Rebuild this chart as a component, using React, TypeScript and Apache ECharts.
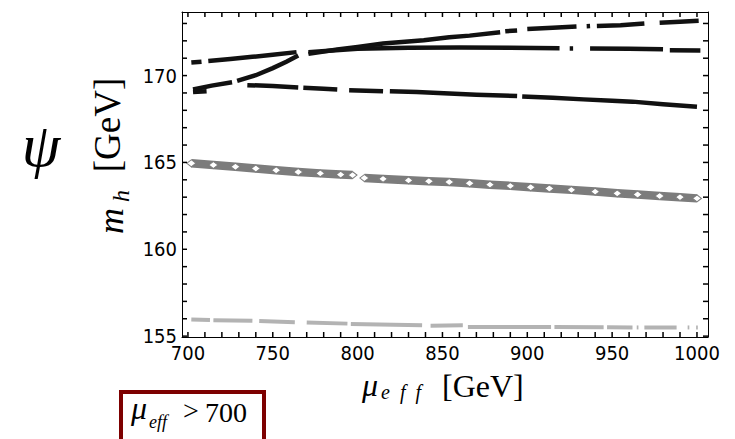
import React, { useEffect, useRef } from "react";
import * as echarts from "echarts";

// ---- axis ticks / labels ----
const xLabels = [700, 750, 800, 850, 900, 950, 1000];
const yLabels = [155, 160, 165, 170];
const xTicks = [700, 710, 720, 730, 740, 750, 760, 770, 780, 790, 800, 810, 820, 830, 840, 850, 860, 870, 880, 890, 900, 910, 920, 930, 940, 950, 960, 970, 980, 990, 1000];
const yTicks = [155, 156, 157, 158, 159, 160, 161, 162, 163, 164, 165, 166, 167, 168, 169, 170, 171, 172, 173];
const xRange = [696.5, 1006.5];
const yRange = [154.95, 173.66];

// ---- data (segments of [mu_eff, m_h]) ----
const lineA: number[][][] = [
  [[702, 170.75], [708, 170.8]],
  [[712, 170.84], [725, 170.95], [738, 171.08], [750, 171.2], [764, 171.35]],
  [[771, 171.35], [785, 171.45], [800, 171.55], [830, 171.6], [860, 171.62], [890, 171.6], [919, 171.58]],
  [[925, 171.56], [927, 171.56]],
  [[937, 171.56], [960, 171.55], [980, 171.52]],
  [[984, 171.46], [1002, 171.45]],
];
const lineB: number[][][] = [
  [[703, 169.2], [714, 169.42], [726, 169.62]],
  [[729, 169.7], [740, 170.02], [750, 170.43], [758, 170.8], [765, 171.15]],
  [[771, 171.25], [788, 171.5], [800, 171.65], [815, 171.85], [839, 172.04], [854, 172.2], [866, 172.3], [884, 172.5]],
  [[887, 172.55], [894, 172.6]],
  [[900, 172.68], [915, 172.76], [929, 172.83]],
  [[935, 172.84], [937, 172.85]],
  [[941, 172.86], [955, 172.9], [969, 173.0]],
  [[978, 173.04], [990, 173.1], [1001, 173.15]],
];
const lineC: number[][][] = [
  [[703, 169.05], [711, 169.1]],
  [[735, 169.45], [750, 169.4], [765, 169.32]],
  [[768, 169.3], [780, 169.24], [788, 169.2]],
  [[795, 169.16], [815, 169.1]],
  [[819, 169.1], [835, 169.06], [854, 168.97], [870, 168.9], [894, 168.82]],
  [[897, 168.8], [915, 168.72], [933, 168.63], [950, 168.55], [962, 168.5], [980, 168.35], [1000, 168.2]],
];
const lineD: number[][][] = [
  [[702, 164.95], [715, 164.85], [728, 164.75], [740, 164.65], [752, 164.55], [765, 164.45], [778, 164.37], [790, 164.3], [797, 164.27]],
  [[804, 164.1], [815, 164.05], [830, 163.97], [842, 163.92], [854, 163.87], [866, 163.8], [878, 163.72], [890, 163.65], [902, 163.57], [913, 163.5], [926, 163.42], [940, 163.32], [953, 163.22], [965, 163.15], [978, 163.07], [990, 163.0], [1000, 162.93]],
];
const lineE: number[][][] = [
  [[702, 155.96], [713, 155.93]],
  [[715, 155.92], [738, 155.88]],
  [[742, 155.87], [763, 155.8]],
  [[770, 155.78], [794, 155.72]],
  [[796, 155.7], [838, 155.62]],
  [[843, 155.6], [862, 155.62]],
  [[865, 155.52], [914, 155.52]],
  [[916, 155.52], [945, 155.51]],
  [[947, 155.51], [962, 155.5]],
  [[964.5, 155.5], [965.5, 155.5]],
  [[969, 155.5], [988, 155.5]],
  [[994.5, 155.5], [995.5, 155.5]],
  [[999.5, 155.5], [1000.5, 155.5]],
];

const SERIF = '"Liberation Serif", "Times New Roman", serif';
const TICKFONT = '"DejaVu Sans Condensed", "Liberation Sans", sans-serif';
const TICK_PX = 5;
const W = 735, H = 439;
const G = { left: 182, right: 27, top: 12, bottom: 102 };

function linesSeries(segs: number[][][], color: string, width: number, z = 2) {
  return {
    type: "lines",
    coordinateSystem: "cartesian2d",
    xAxisIndex: 0,
    yAxisIndex: 0,
    polyline: true,
    silent: true,
    clip: false,
    z,
    lineStyle: { color, width, opacity: 1, cap: "butt", curveness: 0 },
    data: segs.map((s) => ({ coords: s })),
  };
}

function txt(text: string, x: number, y: number, size: number, opts: any = {}) {
  return {
    type: "text",
    x,
    y,
    rotation: opts.rotation || 0,
    z: 100,
    style: {
      text,
      fill: "#000",
      fontSize: size,
      fontFamily: opts.family || SERIF,
      fontStyle: opts.italic ? "italic" : "normal",
      align: opts.align || "left",
      textAlign: opts.align || "left",
      verticalAlign: "middle",
      textVerticalAlign: "middle",
    },
  };
}

export default function App() {
  const ref = useRef<HTMLDivElement>(null);
  useEffect(() => {
    if (!ref.current) return;
    const chart = echarts.init(ref.current, null, { renderer: "svg" });
    const fmt = (v: number) => String(Math.round(v));

    const frameAxis = (pos: string, range: number[], labels: number[] | null) => ({
      type: "value",
      position: pos,
      min: range[0],
      max: range[1],
      axisLine: { show: true, onZero: false, lineStyle: { color: "#000", width: 1 } },
      axisTick: { show: false },
      splitLine: { show: false },
      axisLabel: labels
        ? { show: true, customValues: labels, formatter: fmt, fontSize: 20, fontFamily: TICKFONT, color: "#000", margin: pos === "bottom" ? 6 : 5 }
        : { show: false },
    });

    const baseGraphic: any[] = [
      txt("\u03C8", 41, 145, 62, { italic: true, align: "center" }),
      txt("[GeV]", 107, 125, 37, { rotation: Math.PI / 2, align: "center" }),
      txt("h", 121, 196, 24, { rotation: Math.PI / 2, italic: true, align: "center" }),
      txt("m", 111, 221, 36, { rotation: Math.PI / 2, italic: true, align: "center" }),
      txt("\u03BC", 362, 384.5, 32, { italic: true }),
      txt("e\u2002f\u2002f", 381, 392, 20, { italic: true }),
      txt("[GeV]", 442, 386, 32),
      {
        type: "rect",
        z: 100,
        shape: { x: 121, y: 392, width: 143, height: 60 },
        style: { fill: "#fff", stroke: "#7d0000", lineWidth: 4 },
      },
      txt("\u03BC", 131, 408, 32, { italic: true }),
      txt("eff", 149, 422, 18, { italic: true }),
      txt(">", 183, 410.5, 28),
      txt("700", 205, 412.5, 28),
    ];

    const option: any = {
      animation: false,
      backgroundColor: "#fff",
      grid: { ...G, containLabel: false },
      xAxis: [frameAxis("bottom", xRange, xLabels), frameAxis("top", xRange, null)],
      yAxis: [frameAxis("left", yRange, yLabels), frameAxis("right", yRange, null)],
      series: [
        linesSeries(lineE, "#b3b3b3", 4),
        linesSeries(lineD, "#7c7c7c", 8.5),
        {
          type: "scatter",
          xAxisIndex: 0,
          yAxisIndex: 0,
          silent: true,
          z: 3,
          symbol: "diamond",
          symbolSize: [9, 7],
          itemStyle: { color: "#ffffff", borderColor: "#7c7c7c", borderWidth: 1, opacity: 1 },
          data: lineD.flat(),
        },
        linesSeries(lineC, "#111", 4.5, 4),
        linesSeries(lineA, "#111", 4.5, 4),
        linesSeries(lineB, "#111", 4.5, 4),
      ],
      graphic: baseGraphic,
    };
    chart.setOption(option);

    // pixel position of an axis value, via the chart's own axis scales (fallback: linear map of the grid)
    const pw = W - G.left - G.right;
    const ph = H - G.top - G.bottom;
    const toPx = (v: number) => {
      let p: any;
      try { p = chart.convertToPixel({ xAxisIndex: 0 } as any, v); } catch (e) { p = undefined; }
      return typeof p === "number" && isFinite(p) ? p : G.left + ((v - xRange[0]) / (xRange[1] - xRange[0])) * pw;
    };
    const toPy = (v: number) => {
      let p: any;
      try { p = chart.convertToPixel({ yAxisIndex: 0 } as any, v); } catch (e) { p = undefined; }
      return typeof p === "number" && isFinite(p) ? p : G.top + ph - ((v - yRange[0]) / (yRange[1] - yRange[0])) * ph;
    };
    const bottomY = toPy(yRange[0]);
    const topY = toPy(yRange[1]);
    const leftX = toPx(xRange[0]);
    const rightX = toPx(xRange[1]);

    // inward tick marks on all four sides
    const tickGraphic: any[] = [];
    const fill = { fill: "#000" };
    xTicks.forEach((v) => {
      const x = toPx(v);
      tickGraphic.push({ type: "rect", z: 90, shape: { x: x - 0.75, y: bottomY - TICK_PX, width: 1.5, height: TICK_PX }, style: fill });
      tickGraphic.push({ type: "rect", z: 90, shape: { x: x - 0.75, y: topY, width: 1.5, height: TICK_PX }, style: fill });
    });
    yTicks.forEach((v) => {
      const y = toPy(v);
      tickGraphic.push({ type: "rect", z: 90, shape: { x: leftX, y: y - 0.75, width: TICK_PX, height: 1.5 }, style: fill });
      tickGraphic.push({ type: "rect", z: 90, shape: { x: rightX - TICK_PX, y: y - 0.75, width: TICK_PX, height: 1.5 }, style: fill });
    });
    chart.setOption({ graphic: [...baseGraphic, ...tickGraphic] });

    return () => chart.dispose();
  }, []);
  return (
    <div
      ref={ref}
      style={{ position: "fixed", left: 0, top: 0, width: W, height: H, background: "#fff" }}
    />
  );
}
